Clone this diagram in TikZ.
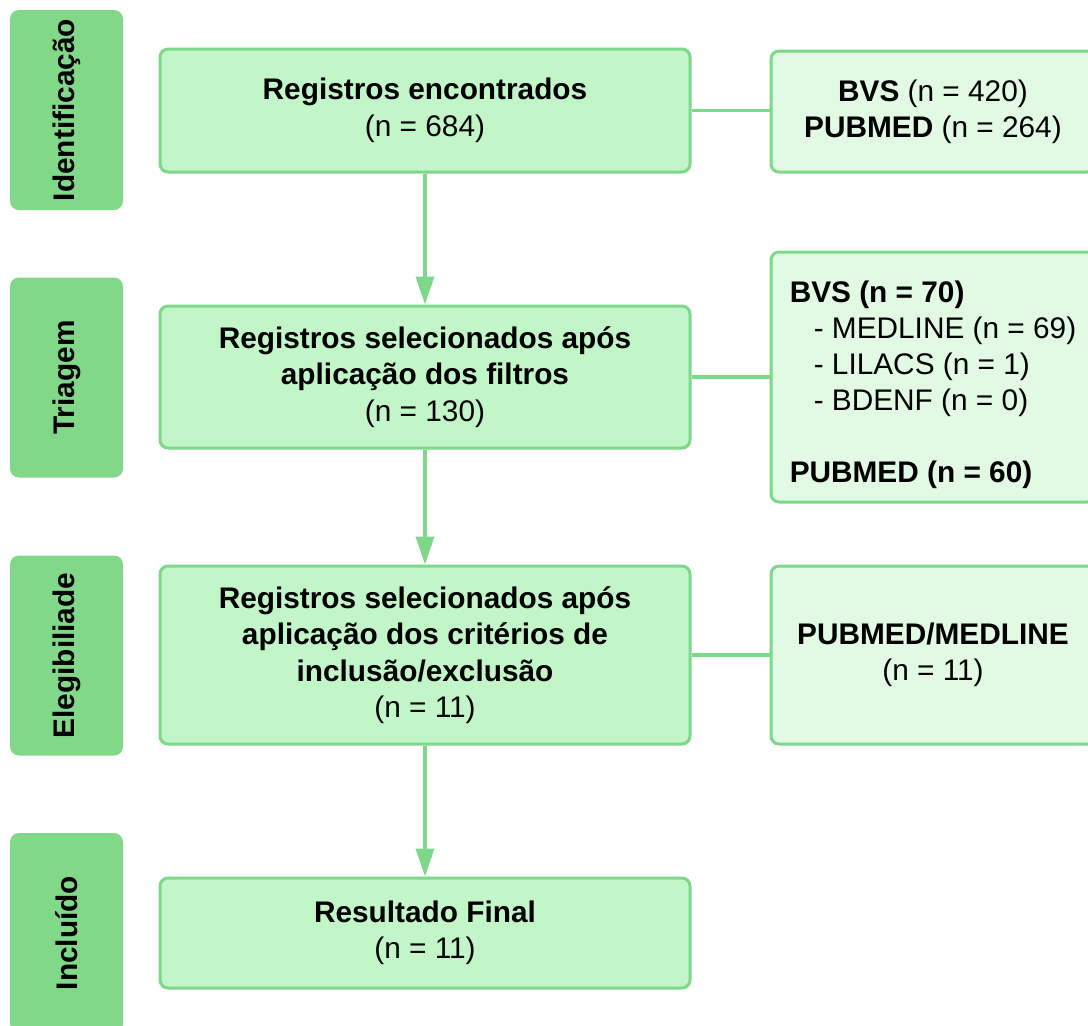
\documentclass[tikz,border=0pt]{standalone}
\usepackage{fontspec}
\setmainfont{Liberation Sans}
\usetikzlibrary{arrows.meta}
\definecolor{stage}{HTML}{80D888}
\definecolor{mainfill}{HTML}{C2F5C7}
\definecolor{edge}{HTML}{7DD88A}
\definecolor{sidefill}{HTML}{E2F9E4}
\begin{document}
\begin{tikzpicture}[x=1pt,y=-1pt,
  stagebox/.style={fill=stage, rounded corners=9pt, rotate=90, minimum width=200pt, minimum height=113pt, inner sep=0pt, font=\fontsize{29.8}{36.5}\selectfont\bfseries},
  mainbox/.style={draw=edge, line width=3pt, fill=mainfill, rounded corners=8pt, minimum width=530pt, align=center, inner sep=0pt, font=\fontsize{29.8}{36.5}\selectfont},
  sidebox/.style={draw=edge, line width=3pt, fill=sidefill, rounded corners=8pt, minimum width=324pt, inner sep=0pt, font=\fontsize{29.8}{36}\selectfont},
  link/.style={draw=edge, line width=3.5pt},
  arr/.style={link, -{Triangle[length=28pt,width=18pt]}}]
\useasboundingbox (0,0) rectangle (1088,1026);
\clip (0,0) rectangle (1088,1026);
% stage labels
\node[stagebox] (s1) at (66.5,110) {Identificação};
\node[stagebox] (s2) at (66.5,377.5) {Triagem};
\node[stagebox] (s3) at (66.5,655.5) {Elegibiliade};
\node[stagebox] (s4) at (66.5,933) {Incluído};
% main boxes
\node[mainbox, minimum height=123pt] (m1) at (425,110.5) {\textbf{Registros encontrados}\\(n = 684)};
\node[mainbox, minimum height=142pt] (m2) at (425,377) {\textbf{Registros selecionados após}\\\textbf{aplicação dos filtros}\\(n = 130)};
\node[mainbox, minimum height=178pt] (m3) at (425,655) {\textbf{Registros selecionados após}\\\textbf{aplicação dos critérios de}\\\textbf{inclusão/exclusão}\\(n = 11)};
\node[mainbox, minimum height=110pt] (m4) at (425,933) {\textbf{Resultado Final}\\(n = 11)};
% side boxes
\node[sidebox, minimum height=121pt, align=center] (r1) at (933,111.5) {\textbf{BVS} (n = 420)\\\textbf{PUBMED} (n = 264)};
\node[sidebox, minimum height=250pt, align=left] (r2) at (933,377) {\mbox{}\\[2pt]\textbf{BVS (n = 70)}\\\mbox{\hspace*{24pt}- MEDLINE (n = 69)}\\\hspace*{24pt}- LILACS (n = 1)\\\hspace*{24pt}- BDENF (n = 0)\\[36pt]\textbf{PUBMED (n = 60)}};
\node[sidebox, minimum height=178pt, align=center] (r3) at (933,655) {\textbf{PUBMED/MEDLINE}\\(n = 11)};
% connectors
\draw[link] (m1.east) -- (m1.east -| r1.west);
\draw[link] (m2.east) -- (m2.east -| r2.west);
\draw[link] (m3.east) -- (m3.east -| r3.west);
\draw[arr] (m1.south) -- (m2.north);
\draw[arr] (m2.south) -- (m3.north);
\draw[arr] (m3.south) -- (m4.north);
\end{tikzpicture}
\end{document}
